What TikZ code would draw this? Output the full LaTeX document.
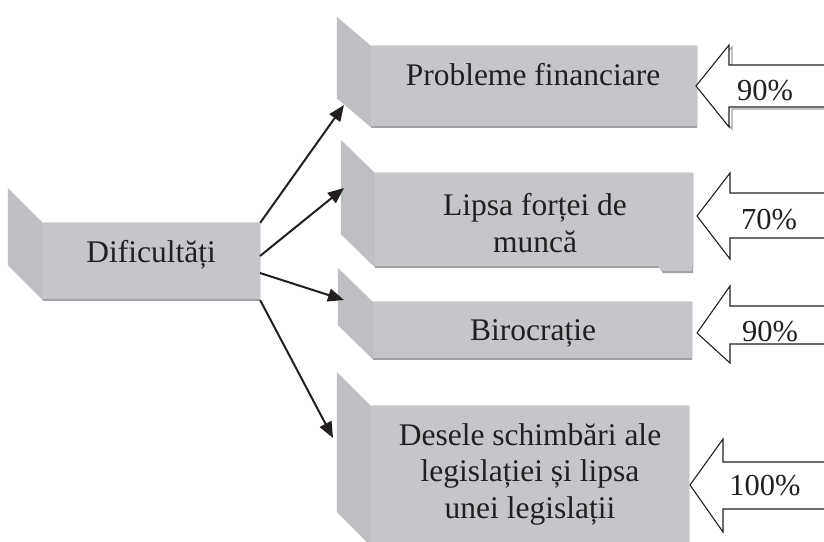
\documentclass[tikz,border=0pt]{standalone}
\usepackage{fontspec}
\setmainfont{Liberation Serif}
\usetikzlibrary{arrows.meta,calc}
\definecolor{boxgray}{RGB}{197,198,202}
\definecolor{panelgray}{RGB}{190,191,195}
\definecolor{edgegray}{RGB}{160,161,165}
\definecolor{lightedge}{RGB}{222,223,226}
\definecolor{shadowgray}{RGB}{165,165,165}
\definecolor{inkblack}{RGB}{35,31,32}
\tikzset{
  front/.style={fill=boxgray, draw=none, inner sep=0pt},
  lbl/.style={font=\fontsize{31.5}{36.3}\selectfont, align=center, inner sep=0pt, text=inkblack, anchor=base},
  pct/.style={font=\fontsize{30.5}{36}\selectfont, inner sep=0pt, anchor=base, text=inkblack},
  conn/.style={line width=2pt, draw=inkblack, -{Triangle[length=16pt,width=13pt]}},
  blockarrow/.style={fill=white, draw=inkblack, line width=1.1pt, line join=miter},
}
\newcommand{\bevpanel}[3]{% node, dx, dy
  \fill[panelgray] (#1.north west) -- ++(-#2,-#3) -- ($(#1.south west)+(-#2,-#3)$) -- (#1.south west) -- cycle;
  \draw[edgegray, line width=1.5pt] ([xshift=0.5pt]#1.south west) -- ([xshift=-0.5pt]#1.south east);
  \draw[lightedge, line width=1.2pt] (#1.north east) -- (#1.south east);
  \draw[lightedge, line width=0.8pt] (#1.north west) -- (#1.north east);
}
\begin{document}
\begin{tikzpicture}[x=1pt,y=-1pt]
\clip (0,0) rectangle (824,541);
\useasboundingbox (0,0) rectangle (824,541);

% boxes
\node[front, minimum width=217pt, minimum height=77pt] (d) at (151.5,261.5) {};
\bevpanel{d}{35}{35}
\node[front, minimum width=326pt, minimum height=81pt] (b1) at (534,86.5) {};
\bevpanel{b1}{34}{29}
% notch of box 2
\fill[edgegray] (658,266) -- (663,273) -- (693,273) -- (693,266) -- cycle;
\node[front, minimum width=318pt, minimum height=94pt] (b2) at (534,220) {};
\bevpanel{b2}{34}{33}
\fill[boxgray] (658,266) -- (662,271) -- (692,271) -- (692,266) -- cycle;
\node[front, minimum width=319pt, minimum height=57pt] (b3) at (532.5,330.5) {};
\bevpanel{b3}{35}{34}
\node[front, minimum width=318pt, minimum height=140pt] (b4) at (530,476) {};
\bevpanel{b4}{34}{34}

% labels (base = baseline of last line)
\node[lbl] (td) at (151,262) {Dificultăți};
\node[lbl] (t1) at (533,85) {Probleme financiare};
\node[lbl] (t2) at (535,252) {Lipsa forței de\\muncă};
\node[lbl] (t3) at (533,340) {Birocrație};
\node[lbl] (t4) at (530,518) {Desele schimbări ale\\legislației și lipsa\\unei legislații};

% block arrows
\draw[shadowgray, line width=1.2pt, shift={(3,2)}] (830,107) -- (729,107) -- (729,127) -- (696,86) -- (729,45) -- (729,65) -- (830,65);
\draw[blockarrow] (696,86) -- (729,45) -- (729,65) -- (830,65) -- (830,107) -- (729,107) -- (729,127) -- cycle;
\draw[blockarrow] (697,216) -- (730,173) -- (730,193) -- (830,193) -- (830,238) -- (730,238) -- (730,259) -- cycle;
\draw[blockarrow] (697,333) -- (730,286) -- (730,306) -- (830,306) -- (830,344) -- (730,344) -- (730,363) -- cycle;
\draw[blockarrow] (690,485) -- (723,439) -- (723,462) -- (830,462) -- (830,509) -- (723,509) -- (723,532) -- cycle;

\node[pct] (p1) at (765,100) {90\%};
\node[pct] (p2) at (769,229) {70\%};
\node[pct] (p3) at (770,341) {90\%};
\node[pct] (p4) at (765,495) {100\%};

% connectors
\coordinate (s2) at (260,256);
\coordinate (s3) at (260,273);
\coordinate (e1) at (344,105);
\coordinate (e2) at (344,188);
\coordinate (e3) at (344,300);
\coordinate (e4) at (333,438);
\draw[conn] (d.north east) -- (e1);
\draw[conn] (s2) -- (e2);
\draw[conn] (s3) -- (e3);
\draw[conn] (d.south east) -- (e4);
\end{tikzpicture}
\end{document}
